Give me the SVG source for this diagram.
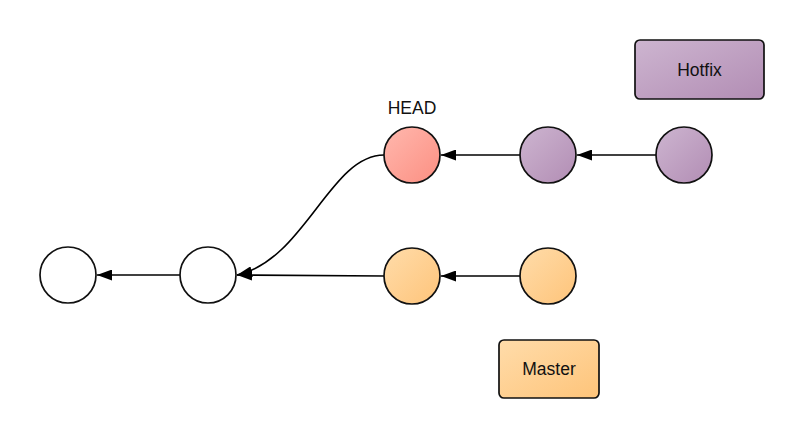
<svg xmlns="http://www.w3.org/2000/svg" width="804" height="440" viewBox="0 0 804 440">
<defs>
<linearGradient id="gRed" x1="0" y1="0" x2="1" y2="1"><stop offset="0" stop-color="#ffb8ae"/><stop offset="1" stop-color="#fc8f82"/></linearGradient>
<linearGradient id="gPur" x1="0" y1="0" x2="1" y2="1"><stop offset="0" stop-color="#cdb5d0"/><stop offset="1" stop-color="#b28db4"/></linearGradient>
<linearGradient id="gOra" x1="0" y1="0" x2="1" y2="1"><stop offset="0" stop-color="#ffdcaa"/><stop offset="1" stop-color="#fec47a"/></linearGradient>
<marker id="arr" viewBox="0 0 15 11" refX="15" refY="5.5" markerWidth="15" markerHeight="11" markerUnits="userSpaceOnUse" orient="auto"><path d="M0,0 L15,5.5 L0,11 Z" fill="#000"/></marker>
</defs>
<style>
.node{stroke:#111;stroke-width:1.7}
.edge{fill:none;stroke:#000;stroke-width:1.6;marker-end:url(#arr)}
text{font-family:"Liberation Sans",Arial,sans-serif;font-size:17.5px;fill:#111}
</style>
<rect width="804" height="440" fill="#fff"/>
<g id="connectors">
<path class="edge" d="M180,275 L97,275"/>
<path class="edge" d="M384,276 L237,275"/>
<path class="edge" d="M384,155 C330,155 305,260 237,275"/>
<path class="edge" d="M520,155 L441,155"/>
<path class="edge" d="M656,155 L577,155"/>
<path class="edge" d="M520,276 L441,276"/>
</g>
<g id="c1"><circle class="node" cx="68" cy="275" r="28" fill="#fff"/></g>
<g id="c2"><circle class="node" cx="208" cy="275" r="28" fill="#fff"/></g>
<g id="head"><circle class="node" cx="412" cy="155" r="28" fill="url(#gRed)"/><text x="412" y="114" text-anchor="middle">HEAD</text></g>
<g id="p1"><circle class="node" cx="548" cy="155" r="28" fill="url(#gPur)"/></g>
<g id="p2"><circle class="node" cx="684" cy="155" r="28" fill="url(#gPur)"/></g>
<g id="o1"><circle class="node" cx="412" cy="276" r="28" fill="url(#gOra)"/></g>
<g id="o2"><circle class="node" cx="548" cy="276" r="28" fill="url(#gOra)"/></g>
<g id="hotfix"><rect class="node" x="635" y="40" width="129" height="59" rx="5" fill="url(#gPur)"/><text x="699.5" y="75.5" text-anchor="middle">Hotfix</text></g>
<g id="master"><rect class="node" x="499" y="340" width="100" height="58" rx="5" fill="url(#gOra)"/><text x="549" y="374.5" text-anchor="middle">Master</text></g>
</svg>
